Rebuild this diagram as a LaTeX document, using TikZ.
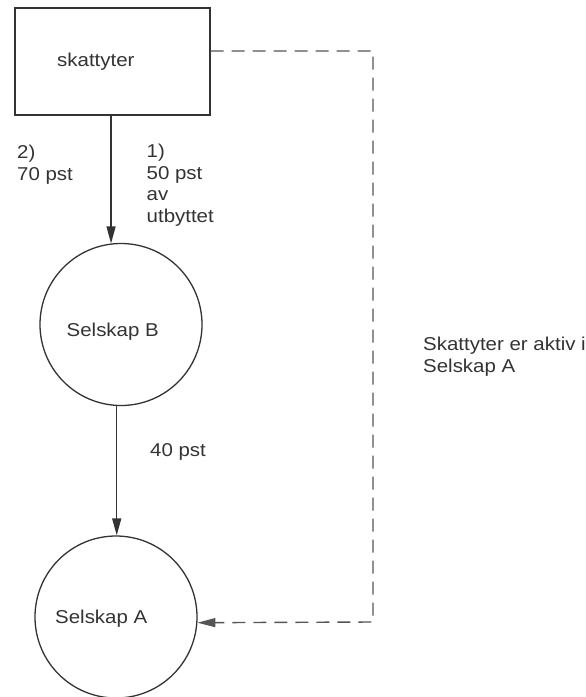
\documentclass[tikz,border=0pt]{standalone}
\usepackage{fontspec}
\setmainfont{Liberation Sans}[FakeStretch=1.1]
\usetikzlibrary{arrows.meta}
\definecolor{ink}{HTML}{333333}
\definecolor{dashink}{HTML}{555555}
\begin{document}
\begin{tikzpicture}[x=1pt,y=-1pt,
  every node/.style={font=\fontsize{18.6}{21.5}\selectfont, text=ink},
  txt/.style={inner sep=0pt, anchor=base west, align=left},
  entity/.style={draw=ink, line width=1.3pt, circle, minimum size=162pt, inner sep=0pt},
  holder/.style={draw=ink, line width=1.3pt, rectangle, minimum width=195pt, minimum height=107pt, inner sep=0pt},
  flow/.style={draw=ink, line width=1.3pt, -{Triangle[length=17pt,width=9pt]}},
  link/.style={draw=dashink, line width=1.4pt, dash pattern=on 13pt off 8pt, -{Triangle[length=18pt,width=9pt]}}]
  \useasboundingbox (0,0) rectangle (586,697);

  % owner and the two companies
  \node[holder] (tax) at (112.5,61.5) {};
  \node[txt] (taxname) at (57,66.5) {skattyter};
  \node[entity] (B) at (121,324.5) {};
  \node[txt] (Bname) at (66.5,336) {Selskap B};
  \node[entity] (A) at (116,617) {};
  \node[txt] (Aname) at (55,623) {Selskap A};

  % ownership shares
  \draw[flow] (B.97 |- tax.south) -- (B.97);
  \draw[flow] (B.267) -- (A.north -| B.267);

  % activity link
  \coordinate (c1) at (373,51);
  \coordinate (c2) at (373,622);
  \draw[link] (tax.east |- c1) -- (c1) -- (c2) -- (A.-4);

  % labels (anchored at the baseline of their last line)
  \node[txt] (l2) at (17,180) {2)\\70 pst};
  \node[txt] (l1) at (146.5,222) {1)\\50 pst\\av\\utbyttet};
  \node[txt] (l40) at (150,456) {40 pst};
  \node[txt] (lakt) at (423,372) {Skattyter er aktiv i\\Selskap A};
\end{tikzpicture}
\end{document}
